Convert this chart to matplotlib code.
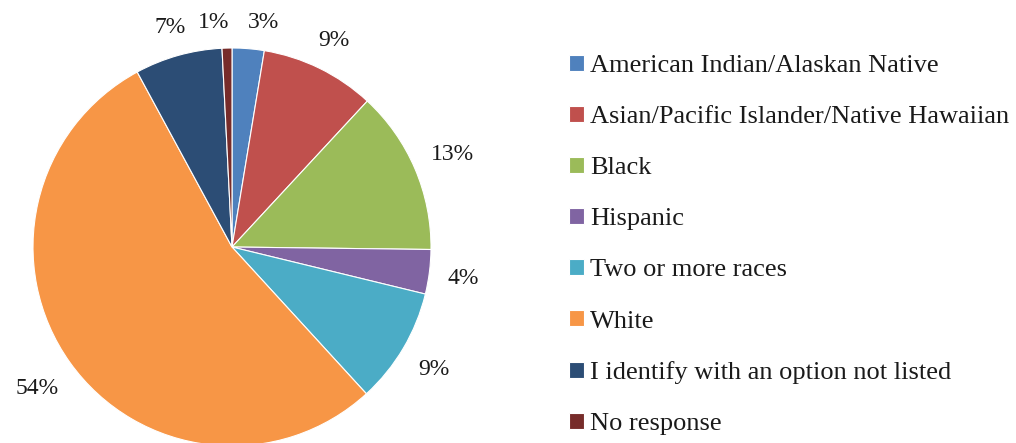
import matplotlib
matplotlib.use("Agg")
import matplotlib.pyplot as plt
import numpy as np

plt.rcParams['font.family'] = ['Liberation Serif', 'DejaVu Serif']

categories = ["American Indian/Alaskan Native",
              "Asian/Pacific Islander/Native Hawaiian",
              "Black",
              "Hispanic",
              "Two or more races",
              "White",
              "I identify with an option not listed",
              "No response"]
shares = [2.6, 9.3, 13.3, 3.6, 9.4, 53.9, 7.1, 0.8]
colors = ["#4F81BD", "#C0504D", "#9BBB59", "#8064A2",
          "#4BACC6", "#F79646", "#2C4D75", "#772C2A"]

fig = plt.figure(figsize=(10.16, 4.43), dpi=100)
W, H = 1016, 443
cx, cy, r = 232, 443 - 247, 199
ax = fig.add_axes([(cx - r) / W, (cy - r) / H, 2 * r / W, 2 * r / H])

wedges, texts, autotexts = ax.pie(
    shares, colors=colors, startangle=90, counterclock=False,
    autopct='%.0f%%', pctdistance=1.15,
    wedgeprops=dict(edgecolor='white', linewidth=0.8),
    textprops=dict(fontsize=17, color='#1a1a1a'))
ax.set_xlim(-1, 1)
ax.set_ylim(-1, 1)
for w in wedges:
    w.set_clip_on(False)

# place labels just outside the rim, like Excel's "outside end"
fig.canvas.draw()
rend = fig.canvas.get_renderer()
gap = 17  # px
to_px = ax.transData
inv = to_px.inverted()
centers = []
for w, t in zip(wedges, autotexts):
    ang = np.deg2rad((w.theta1 + w.theta2) / 2)
    bb = t.get_window_extent(rend)
    ext = bb.width / 2 * abs(np.cos(ang)) + bb.height / 2 * abs(np.sin(ang))
    d = r + gap + ext
    c0 = to_px.transform((0, 0))
    centers.append([c0[0] + d * np.cos(ang), c0[1] + d * np.sin(ang), bb.width, bb.height])

# push apart neighbouring labels that collide (small slices at the top)
n = len(centers)
for i in range(n):
    a, b = centers[i], centers[(i + 1) % n]
    if abs(a[1] - b[1]) < (a[3] + b[3]) / 2:
        ov = (a[2] + b[2]) / 2 + 18 - abs(a[0] - b[0])
        if ov > 0:
            s = 1 if a[0] >= b[0] else -1
            a[0] += s * ov / 2
            b[0] -= s * ov / 2

for t, c in zip(autotexts, centers):
    t.set_position(inv.transform((c[0], c[1])))
    t.set_ha('center')
    t.set_va('center_baseline')

fig.legend(wedges, categories, loc='upper left',
           bbox_to_anchor=(569 / W, (443 - 55) / H),
           frameon=False, fontsize=19, borderpad=0, borderaxespad=0,
           handlelength=0.55, handleheight=0.55, handletextpad=0.25,
           labelspacing=1.09, labelcolor='#1a1a1a')

fig.savefig("out.png", dpi=100)
